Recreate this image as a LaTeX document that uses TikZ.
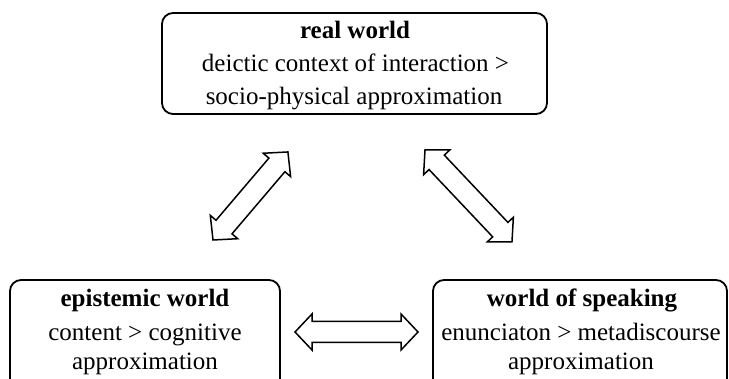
\documentclass[tikz,border=0pt]{standalone}
\usepackage{fontspec}
\setmainfont{Liberation Serif}
\begin{document}
\begin{tikzpicture}[x=1pt,y=1pt,
  box/.style={draw, line width=1.8pt, rounded corners=11pt, inner sep=0pt},
  txt/.style={anchor=base, inner sep=0pt, font=\fontsize{25pt}{30pt}\selectfont},
  arrowline/.style={draw, line width=1.5pt, line join=miter, fill=white}]
\useasboundingbox (0,0) rectangle (729,379);
\clip (0,0) rectangle (729,379);
% boxes
\node[box, minimum width=385pt, minimum height=101pt] (real) at (354.5,315.5) {};
\node[box, minimum width=270pt, minimum height=119pt] (epi) at (145,39.5) {};
\node[box, minimum width=294pt, minimum height=119pt] (spk) at (580,39.5) {};
% texts
\node[txt] (realt) at (355,340) {\textbf{real world}};
\node[txt] (real2) at (355.5,307) {deictic context of interaction >};
\node[txt] (real3) at (354,274) {socio-physical approximation};
\node[txt] (epit) at (145,72) {\textbf{epistemic world}};
\node[txt] (epi2) at (145,38) {content > cognitive};
\node[txt] (epi3) at (145,9) {approximation};
\node[txt] (spkt) at (582,72) {\textbf{world of speaking}};
\node[txt] (spk2) at (581,38) {enunciaton > metadiscourse};
\node[txt] (spk3) at (581,9) {approximation};
% double arrows
\newcommand\dblarr[4]{%
  \begin{scope}[shift={(#1,#2)},rotate=#3]
    \draw[arrowline] (0,0) -- (17,18) -- (17,10.5) -- (#4-17,10.5) -- (#4-17,18)
      -- (#4,0) -- (#4-17,-18) -- (#4-17,-10.5) -- (17,-10.5) -- (17,-18) -- cycle;
  \end{scope}}
\coordinate (a1) at (213,139);
\coordinate (a2) at (425,229);
\coordinate (a3) at (295,47);
\dblarr{213}{139}{49.6}{115.6}
\dblarr{425}{229}{-46.6}{126.6}
\dblarr{295}{47}{0}{123}
\end{tikzpicture}
\end{document}
